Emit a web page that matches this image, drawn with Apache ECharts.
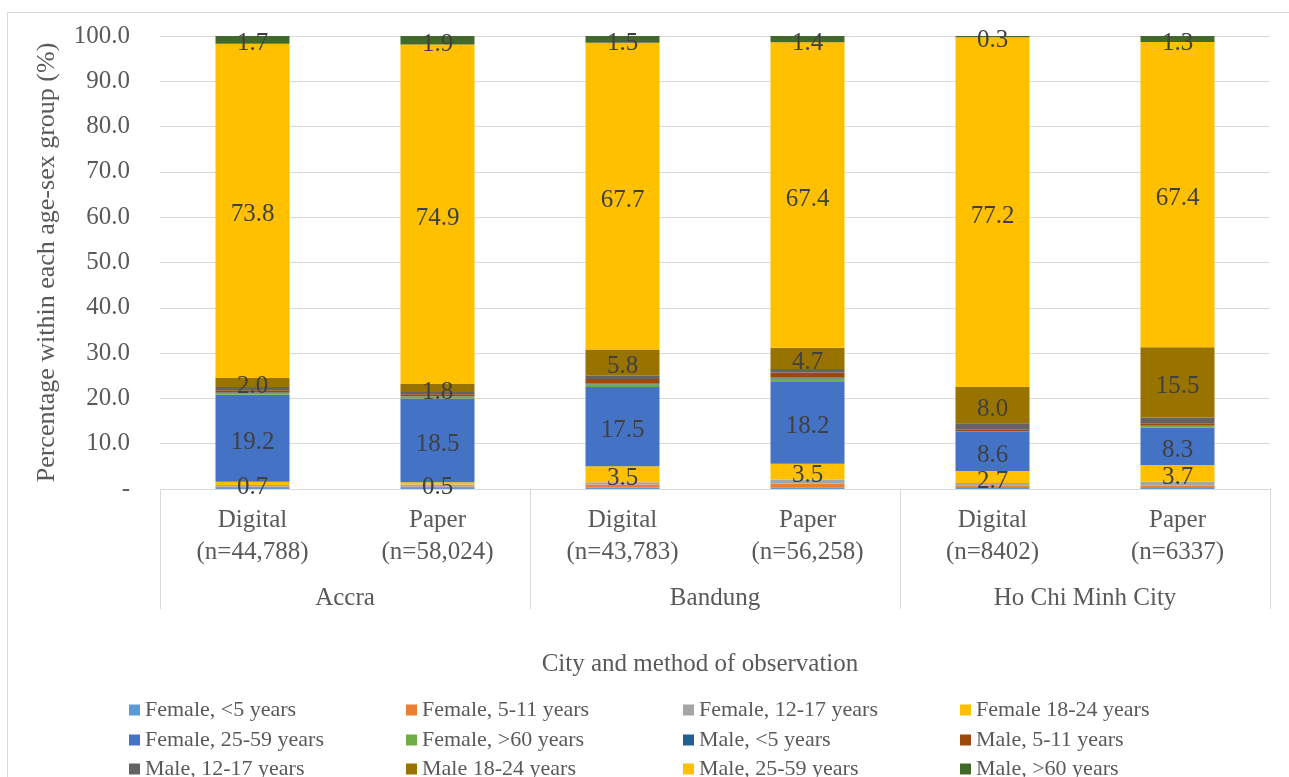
<!DOCTYPE html>
<html>
<head>
<meta charset="utf-8">
<script src="https://cdn.jsdelivr.net/npm/echarts@6/dist/echarts.min.js"></script>
<style>
  html, body { margin: 0; padding: 0; background: #ffffff; }
  #chart { width: 1289px; height: 777px; }
</style>
</head>
<body>
<div id="chart"></div>
<script>
// Bars: one per city and observation method
const methods = [
  'Digital\n(n=44,788)', 'Paper\n(n=58,024)',
  'Digital\n(n=43,783)', 'Paper\n(n=56,258)',
  'Digital\n(n=8402)', 'Paper\n(n=6337)'
];
const cities = ['Accra', 'Bandung', 'Ho Chi Minh City'];
const yTicks = [0, 10, 20, 30, 40, 50, 60, 70, 80, 90, 100];

// Percentage within each age-sex group, stacked bottom to top
const femaleUnder5   = [0.2, 0.2, 0.3, 0.4, 0.2, 0.2];
const female5to11    = [0.3, 0.3, 0.7, 0.8, 0.5, 0.5];
const female12to17   = [0.4, 0.5, 0.5, 0.9, 0.6, 0.9];
const female18to24   = [0.7, 0.5, 3.5, 3.5, 2.7, 3.7];
const female25to59   = [19.2, 18.5, 17.5, 18.2, 8.6, 8.3];
const femaleOver60   = [0.4, 0.4, 0.6, 0.6, 0.1, 0.3];
const maleUnder5     = [0.1, 0.1, 0.2, 0.2, 0.1, 0.1];
const male5to11      = [0.5, 0.4, 1.0, 1.1, 0.3, 0.5];
const male12to17     = [0.7, 0.5, 0.7, 0.8, 1.4, 1.3];
const male18to24     = [2.0, 1.8, 5.8, 4.7, 8.0, 15.5];
const male25to59     = [73.8, 74.9, 67.7, 67.4, 77.2, 67.4];
const maleOver60     = [1.7, 1.9, 1.5, 1.4, 0.3, 1.3];

const seriesNames = [
  'Female, <5 years', 'Female, 5-11 years', 'Female, 12-17 years', 'Female 18-24 years',
  'Female, 25-59 years', 'Female, >60 years', 'Male, <5 years', 'Male, 5-11 years',
  'Male, 12-17 years', 'Male 18-24 years', 'Male, 25-59 years', 'Male, >60 years'
];
const seriesValues = [
  femaleUnder5, female5to11, female12to17, female18to24,
  female25to59, femaleOver60, maleUnder5, male5to11,
  male12to17, male18to24, male25to59, maleOver60
];
const seriesColors = [
  '#5B9BD5', '#ED7D31', '#A5A5A5', '#FFC000',
  '#4472C4', '#70AD47', '#255E91', '#9E480E',
  '#636363', '#997300', '#FFC000', '#43682B'
];
// Groups whose values are printed on the bars
const labelled = new Set([3, 4, 9, 10, 11]);

const FONT = 'Liberation Serif';
const chart = echarts.init(document.getElementById('chart'), null, { renderer: 'canvas' });

const series = seriesNames.map((name, i) => ({
  name: name,
  type: 'bar',
  stack: 'total',
  xAxisIndex: 0,
  barWidth: 74,
  data: seriesValues[i],
  itemStyle: { color: seriesColors[i] },
  emphasis: { disabled: true },
  label: {
    show: labelled.has(i),
    position: 'inside',
    offset: [0, 4],
    fontFamily: FONT,
    fontSize: 25,
    color: '#404040',
    formatter: p => Number(p.value).toFixed(1)
  }
}));

function legendRow(names, top) {
  return {
    data: names.map(n => ({ name: n })),
    orient: 'horizontal',
    left: 129,
    top: top,
    padding: 0,
    itemGap: 0,
    itemWidth: 11,
    itemHeight: 11,
    icon: 'rect',
    selectedMode: false,
    textStyle: {
      fontFamily: FONT,
      fontSize: 22,
      color: '#595959',
      width: 261,
      lineHeight: 24
    }
  };
}

chart.setOption({
  animation: false,
  backgroundColor: '#ffffff',
  grid: { left: 160, right: 19, top: 36, bottom: 288, containLabel: false },
  legend: [
    legendRow(seriesNames.slice(0, 4), 698),
    legendRow(seriesNames.slice(4, 8), 728),
    legendRow(seriesNames.slice(8, 12), 757)
  ],
  xAxis: [
    {
      type: 'category',
      data: methods,
      position: 'bottom',
      axisLine: { show: true, lineStyle: { color: '#d9d9d9', width: 1 } },
      axisTick: { show: false },
      axisLabel: {
        fontFamily: FONT, fontSize: 25, color: '#595959',
        lineHeight: 32, margin: 15, interval: 0
      },
      splitLine: { show: false }
    },
    {
      type: 'category',
      data: cities,
      position: 'bottom',
      axisLine: { show: false },
      axisTick: { show: true, length: 120, lineStyle: { color: '#d9d9d9', width: 1 } },
      axisLabel: {
        fontFamily: FONT, fontSize: 25, color: '#595959',
        margin: 97, interval: 0
      },
      splitLine: { show: false }
    }
  ],
  yAxis: {
    type: 'value',
    min: yTicks[0],
    max: yTicks[yTicks.length - 1],
    interval: yTicks[1] - yTicks[0],
    name: 'Percentage within each age-sex group (%)',
    nameLocation: 'middle',
    nameGap: 100,
    nameTextStyle: { fontFamily: FONT, fontSize: 26, color: '#595959' },
    axisLine: { show: false },
    axisTick: { show: false },
    axisLabel: {
      fontFamily: FONT, fontSize: 25, color: '#595959', margin: 30,
      formatter: v => (v === 0 ? '-' : v.toFixed(1))
    },
    splitLine: { show: true, lineStyle: { color: '#d9d9d9', width: 1 } }
  },
  graphic: [
    {
      type: 'rect',
      silent: true,
      shape: { x: 7.5, y: 12.5, width: 1300, height: 800 },
      style: { fill: 'none', stroke: '#d9d9d9', lineWidth: 1 }
    },
    {
      type: 'text',
      silent: true,
      x: 700,
      y: 664,
      style: {
        text: 'City and method of observation',
        fontFamily: FONT,
        fontSize: 25,
        fill: '#595959',
        align: 'center',
        verticalAlign: 'middle'
      }
    }
  ],
  series: series
});
</script>
</body>
</html>
